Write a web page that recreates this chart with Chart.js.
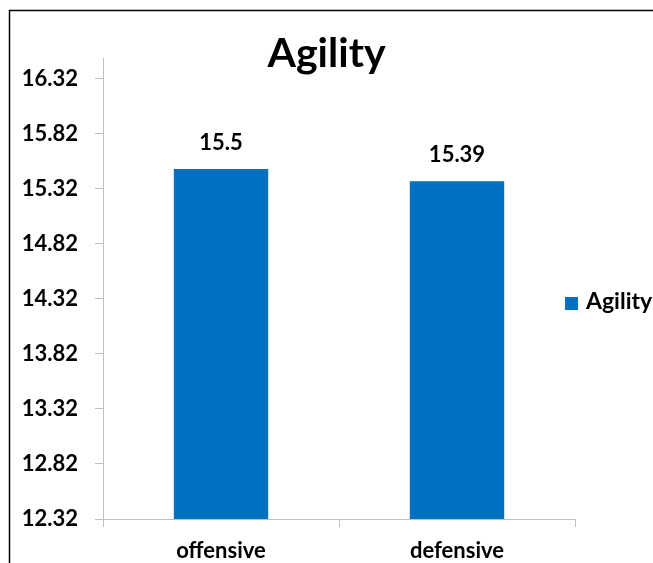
<!DOCTYPE html>
<html>
<head>
<meta charset="utf-8">
<title>Agility</title>
<script src="https://cdn.jsdelivr.net/npm/chart.js@4/dist/chart.umd.min.js"></script>
<style>
  html, body { margin: 0; padding: 0; background: #ffffff; }
  #wrap { position: relative; width: 653px; height: 563px; }
  canvas { display: block; }
</style>
</head>
<body>
<div id="wrap"><canvas id="chart" width="653" height="563"></canvas></div>
<script>
// Chart data
const categories = ['offensive', 'defensive'];
const agilityValues = [15.5, 15.39];
const seriesName = 'Agility';
const yTickValues = [12.32, 12.82, 13.32, 13.82, 14.32, 14.82, 15.32, 15.82, 16.32];
const yMin = 12.32;
const yMax = 16.51;

const FONT = 'Lato, "Open Sans", sans-serif';
const BAR_COLOR = '#0070C0';
const AXIS_COLOR = '#BFBFBF';

// Outer frame lines along the top and left edges
const framePlugin = {
  id: 'frame',
  beforeDraw(chart) {
    const ctx = chart.ctx;
    ctx.save();
    ctx.strokeStyle = '#000000';
    ctx.lineWidth = 1.5;
    ctx.beginPath();
    ctx.moveTo(9.5, chart.height);
    ctx.lineTo(9.5, 10.5);
    ctx.lineTo(chart.width, 10.5);
    ctx.stroke();
    ctx.restore();
  }
};

// Value labels above each bar
const valueLabelPlugin = {
  id: 'valueLabels',
  afterDatasetsDraw(chart) {
    const ctx = chart.ctx;
    ctx.save();
    ctx.font = 'bold 22px ' + FONT;
    ctx.fillStyle = '#000000';
    ctx.textAlign = 'center';
    ctx.textBaseline = 'alphabetic';
    chart.data.datasets.forEach((ds, di) => {
      chart.getDatasetMeta(di).data.forEach((bar, i) => {
        ctx.fillText(String(ds.data[i]), bar.x, bar.y - 19);
      });
    });
    ctx.restore();
  }
};

// Series key placed to the right of the plot
const sideLegendPlugin = {
  id: 'sideLegend',
  afterDraw(chart) {
    const ctx = chart.ctx;
    const area = chart.chartArea;
    const ds = chart.data.datasets[0];
    const boxX = area.right - 10;
    const boxY = 297;
    ctx.save();
    ctx.fillStyle = ds.backgroundColor;
    ctx.fillRect(boxX, boxY, 13, 13);
    ctx.font = 'bold 23px ' + FONT;
    ctx.fillStyle = '#000000';
    ctx.textAlign = 'left';
    ctx.textBaseline = 'alphabetic';
    ctx.fillText(ds.label, boxX + 21, boxY + 12);
    ctx.restore();
  }
};

new Chart(document.getElementById('chart'), {
  type: 'bar',
  data: {
    labels: categories,
    datasets: [{
      label: seriesName,
      data: agilityValues,
      backgroundColor: BAR_COLOR,
      borderWidth: 0,
      categoryPercentage: 1.0,
      barPercentage: 0.4,
      yAxisID: 'y'
    }]
  },
  options: {
    responsive: false,
    animation: false,
    layout: { padding: 0 },
    plugins: {
      legend: { display: false },
      tooltip: { enabled: false },
      title: {
        display: true,
        text: 'Agility',
        color: '#000000',
        font: { family: FONT, size: 41, weight: 'bold', lineHeight: 1 },
        padding: { top: 33, bottom: -16 }
      }
    },
    scales: {
      x: {
        grid: {
          offset: true,
          drawOnChartArea: false,
          drawTicks: true,
          tickLength: 8,
          color: AXIS_COLOR
        },
        border: { color: AXIS_COLOR, width: 1 },
        ticks: {
          color: '#000000',
          padding: 11,
          font: { family: FONT, size: 22, weight: 'bold' }
        },
        afterFit(scale) { scale.height = 44; }
      },
      y: {
        min: yMin,
        max: yMax,
        grid: {
          drawOnChartArea: false,
          drawTicks: true,
          tickLength: 8,
          color: AXIS_COLOR
        },
        border: { color: AXIS_COLOR, width: 1 },
        ticks: {
          color: '#000000',
          padding: 17,
          font: { family: FONT, size: 22, weight: 'bold' },
          callback: (v) => Number(v).toFixed(2)
        },
        afterBuildTicks(scale) {
          scale.ticks = yTickValues.map(v => ({ value: v }));
        },
        afterFit(scale) { scale.width = 103; }
      },
      // Blank right-hand column that holds the series key
      keySpace: {
        type: 'linear',
        position: 'right',
        min: yMin,
        max: yMax,
        grid: { display: false, drawTicks: false },
        border: { display: false },
        ticks: { display: false },
        afterFit(scale) { scale.width = 78; }
      }
    }
  },
  plugins: [framePlugin, valueLabelPlugin, sideLegendPlugin]
});
</script>
</body>
</html>
